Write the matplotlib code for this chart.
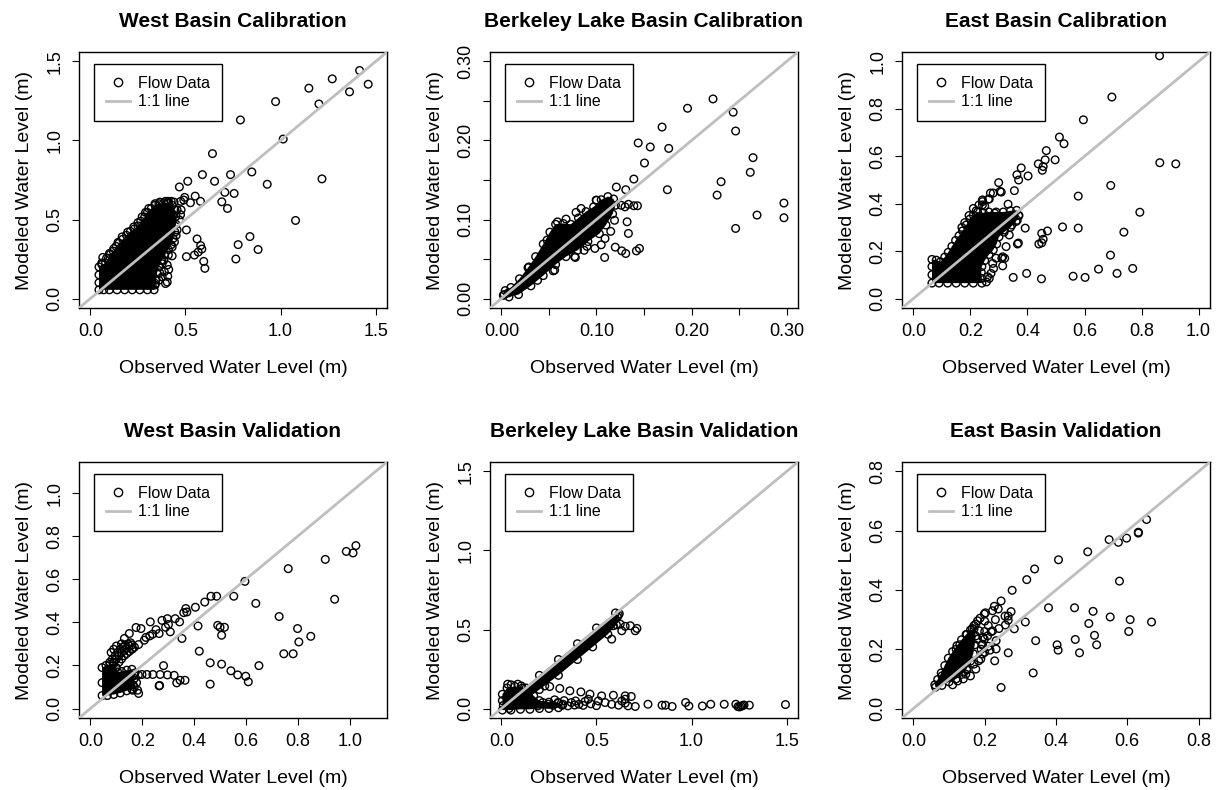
import numpy as np
import matplotlib.pyplot as plt
from matplotlib.lines import Line2D

plt.rcParams['font.family'] = ['Liberation Sans', 'DejaVu Sans']

# ---- West Basin Calibration ----
wc_obs = [1.416, 1.461, 1.272, 1.149, 1.363, 1.202, 0.974, 0.789, 1.014, 0.642, 0.589, 0.737, 0.849,
          0.653, 0.930, 1.218, 0.512, 0.468, 0.707, 0.756, 0.691, 0.721, 1.079, 0.505, 0.561, 0.839,
          0.777, 0.882, 0.765, 0.505, 0.547, 0.567, 0.580, 0.586, 0.596, 0.602, 0.551, 0.579, 0.526,
          0.496, 0.475, 0.065,
          0.370, 0.390, 0.410, 0.430, 0.430, 0.442, 0.451, 0.456, 0.468, 0.474, 0.477, 0.491, 0.456,
          0.438, 0.404, 0.412, 0.389, 0.407, 0.377, 0.365, 0.360, 0.342, 0.325, 0.404, 0.395, 0.386,
          0.377, 0.395, 0.410, 0.425, 0.440, 0.123, 0.167, 0.228, 0.272, 0.307, 0.196, 0.145, 0.250,
          0.340, 0.365, 0.290, 0.060, 0.085, 0.100]
wc_mod = [1.443, 1.356, 1.390, 1.331, 1.308, 1.231, 1.246, 1.130, 1.009, 0.917, 0.784, 0.784, 0.801,
          0.742, 0.723, 0.757, 0.742, 0.706, 0.672, 0.665, 0.612, 0.570, 0.494, 0.434, 0.377, 0.392,
          0.341, 0.310, 0.250, 0.265, 0.275, 0.294, 0.335, 0.313, 0.235, 0.191, 0.648, 0.615, 0.606,
          0.640, 0.615, 0.260,
          0.275, 0.275, 0.275, 0.270, 0.326, 0.358, 0.400, 0.434, 0.497, 0.530, 0.561, 0.623, 0.561,
          0.530, 0.212, 0.184, 0.169, 0.141, 0.137, 0.163, 0.116, 0.095, 0.085, 0.104, 0.095, 0.242,
          0.220, 0.615, 0.615, 0.615, 0.610, 0.316, 0.390, 0.453, 0.517, 0.570, 0.420, 0.355, 0.480,
          0.600, 0.610, 0.545, 0.225, 0.255, 0.285]
# outline of the saturated, fully overlapping part of the cloud (points along its rim)
wc_core_obs = [0.045, 0.045, 0.045, 0.045, 0.060, 0.080, 0.095, 0.105, 0.120, 0.135, 0.150, 0.170,
               0.190, 0.210, 0.230, 0.250, 0.265, 0.285, 0.300, 0.320, 0.340, 0.360, 0.385, 0.410,
               0.430, 0.445, 0.450, 0.450, 0.445, 0.435, 0.425, 0.410, 0.390, 0.375, 0.360, 0.350,
               0.345, 0.340, 0.335, 0.300, 0.260, 0.220, 0.180, 0.140, 0.100, 0.070]
wc_core_mod = [0.055, 0.100, 0.150, 0.200, 0.215, 0.225, 0.255, 0.280, 0.300, 0.330, 0.350, 0.375,
               0.400, 0.425, 0.440, 0.460, 0.490, 0.515, 0.545, 0.570, 0.590, 0.600, 0.605, 0.605,
               0.590, 0.560, 0.520, 0.470, 0.420, 0.380, 0.340, 0.310, 0.280, 0.240, 0.200, 0.160,
               0.120, 0.085, 0.055, 0.055, 0.055, 0.055, 0.055, 0.055, 0.055, 0.055]

# ---- Berkeley Lake Basin Calibration ----
bc_obs = [0.2226, 0.1958, 0.2438, 0.2464, 0.1690, 0.1439, 0.1566, 0.1760, 0.1505, 0.2647, 0.2618,
          0.2311, 0.2269, 0.1393, 0.1746, 0.1209, 0.1308, 0.2972, 0.2972, 0.2689, 0.2464, 0.1322,
          0.1336, 0.1198, 0.1266, 0.1308, 0.1420, 0.1452, 0.1086, 0.1336, 0.1393, 0.1431, 0.1000,
          0.0785, 0.0680, 0.0983, 0.0900, 0.0778, 0.0545,
          0.0997, 0.0838, 0.0590, 0.0480, 0.0290, 0.0770, 0.0870, 0.1050, 0.0560, 0.0380, 0.1090,
          0.1190, 0.1260, 0.1300, 0.1150, 0.0070, 0.0030]
bc_mod = [0.2526, 0.2408, 0.2358, 0.2120, 0.2170, 0.1969, 0.1918, 0.1900, 0.1715, 0.1783, 0.1597,
          0.1478, 0.1309, 0.1512, 0.1377, 0.1411, 0.1377, 0.1208, 0.1022, 0.1056, 0.0887, 0.0971,
          0.0824, 0.0650, 0.0603, 0.0570, 0.0603, 0.0634, 0.0520, 0.1192, 0.1174, 0.1174, 0.1242,
          0.1090, 0.1005, 0.0634, 0.0660, 0.0520, 0.0350,
          0.1246, 0.1140, 0.0970, 0.0740, 0.0400, 0.0530, 0.0610, 0.0680, 0.0360, 0.0230, 0.0760,
          0.0990, 0.1180, 0.1160, 0.0850, 0.0070, 0.0050]
bc_core_obs = [0.002, 0.004, 0.010, 0.019, 0.028, 0.036, 0.044, 0.051, 0.057, 0.065, 0.073, 0.081,
               0.089, 0.097, 0.105, 0.112, 0.118, 0.120, 0.117, 0.110, 0.103, 0.091, 0.080, 0.068,
               0.057, 0.044, 0.031, 0.018, 0.008]
bc_core_mod = [0.004, 0.010, 0.014, 0.025, 0.039, 0.053, 0.069, 0.084, 0.094, 0.095, 0.094, 0.102,
               0.110, 0.116, 0.125, 0.129, 0.126, 0.118, 0.107, 0.093, 0.082, 0.072, 0.061, 0.053,
               0.043, 0.029, 0.016, 0.005, 0.002]

# ---- East Basin Calibration ----
ec_obs = [0.863, 0.696, 0.596, 0.512, 0.528, 0.466, 0.497, 0.462, 0.438, 0.455, 0.452, 0.378, 0.363,
          0.369, 0.402, 0.299, 0.308, 0.280, 0.270, 0.354, 0.242, 0.266, 0.332, 0.864, 0.920, 0.692,
          0.578, 0.794, 0.738, 0.578, 0.523, 0.392, 0.450, 0.470, 0.455, 0.450, 0.440, 0.691, 0.769,
          0.649, 0.714, 0.602, 0.560, 0.449, 0.397, 0.350, 0.368, 0.365, 0.313, 0.310, 0.320, 0.290,
          0.364, 0.369,
          0.319, 0.336, 0.325, 0.313, 0.278, 0.281, 0.272, 0.260, 0.256, 0.266, 0.242, 0.263, 0.242,
          0.304, 0.210, 0.195, 0.180, 0.170, 0.230, 0.220, 0.250, 0.285, 0.345]
ec_mod = [1.024, 0.850, 0.754, 0.681, 0.653, 0.624, 0.585, 0.585, 0.568, 0.557, 0.541, 0.551, 0.522,
          0.500, 0.517, 0.489, 0.449, 0.445, 0.445, 0.455, 0.409, 0.420, 0.398, 0.573, 0.568, 0.477,
          0.432, 0.364, 0.280, 0.297, 0.302, 0.297, 0.275, 0.285, 0.250, 0.235, 0.230, 0.183, 0.127,
          0.124, 0.106, 0.089, 0.094, 0.083, 0.106, 0.089, 0.234, 0.230, 0.138, 0.170, 0.170, 0.170,
          0.330, 0.350,
          0.289, 0.268, 0.219, 0.176, 0.148, 0.127, 0.106, 0.092, 0.070, 0.085, 0.416, 0.419, 0.395,
          0.452, 0.380, 0.350, 0.320, 0.300, 0.395, 0.370, 0.390, 0.360, 0.310]
ec_core_obs = [0.065, 0.065, 0.065, 0.065, 0.080, 0.095, 0.110, 0.122, 0.135, 0.148, 0.160, 0.172,
               0.185, 0.198, 0.210, 0.225, 0.245, 0.265, 0.290, 0.315, 0.340, 0.362, 0.370, 0.360,
               0.340, 0.318, 0.300, 0.292, 0.280, 0.265, 0.250, 0.240, 0.238, 0.240, 0.240, 0.210,
               0.180, 0.150, 0.120, 0.090]
ec_core_mod = [0.065, 0.100, 0.135, 0.165, 0.162, 0.155, 0.175, 0.195, 0.220, 0.245, 0.265, 0.285,
               0.310, 0.335, 0.352, 0.365, 0.362, 0.365, 0.365, 0.365, 0.370, 0.372, 0.350, 0.325,
               0.300, 0.280, 0.260, 0.230, 0.205, 0.185, 0.160, 0.135, 0.110, 0.085, 0.065, 0.065,
               0.065, 0.065, 0.065, 0.065]

# ---- West Basin Validation ----
wv_obs = [1.024, 0.987, 1.013, 0.906, 0.942, 0.763, 0.596, 0.638, 0.553, 0.465, 0.487, 0.441, 0.405,
          0.368, 0.360, 0.344, 0.327, 0.297, 0.276, 0.290, 0.308, 0.231, 0.728, 0.799, 0.850, 0.804,
          0.746, 0.782, 0.650, 0.415, 0.491, 0.500, 0.517, 0.506, 0.353, 0.420, 0.462, 0.506, 0.542,
          0.568, 0.599, 0.609, 0.462, 0.282, 0.267, 0.333, 0.346, 0.365, 0.323, 0.297, 0.269, 0.241,
          0.218, 0.199,
          0.163, 0.186, 0.208, 0.229, 0.195, 0.176, 0.150, 0.131, 0.253, 0.265, 0.301, 0.372, 0.214,
          0.240,
          0.169, 0.185, 0.265, 0.156, 0.169, 0.182, 0.186, 0.163, 0.178,
          0.075, 0.085, 0.095, 0.105, 0.115, 0.125, 0.135, 0.145, 0.155, 0.090, 0.100, 0.110, 0.120,
          0.130, 0.140, 0.150, 0.160, 0.110, 0.120, 0.130, 0.140, 0.150, 0.160, 0.170, 0.080, 0.090,
          0.100, 0.120]
wv_mod = [0.756, 0.729, 0.722, 0.692, 0.507, 0.649, 0.590, 0.488, 0.521, 0.521, 0.521, 0.494, 0.470,
          0.464, 0.445, 0.402, 0.417, 0.417, 0.409, 0.377, 0.356, 0.402, 0.427, 0.371, 0.335, 0.309,
          0.254, 0.254, 0.199, 0.383, 0.386, 0.377, 0.377, 0.340, 0.325, 0.266, 0.212, 0.206, 0.175,
          0.156, 0.150, 0.124, 0.113, 0.199, 0.107, 0.119, 0.131, 0.131, 0.154, 0.156, 0.158, 0.158,
          0.158, 0.158,
          0.278, 0.297, 0.317, 0.337, 0.371, 0.376, 0.348, 0.325, 0.366, 0.348, 0.390, 0.448, 0.330,
          0.345,
          0.155, 0.155, 0.105, 0.111, 0.100, 0.085, 0.070, 0.085, 0.120,
          0.215, 0.230, 0.245, 0.260, 0.275, 0.285, 0.295, 0.300, 0.305, 0.215, 0.230, 0.245, 0.258,
          0.270, 0.280, 0.290, 0.295, 0.215, 0.230, 0.245, 0.255, 0.265, 0.275, 0.285, 0.260, 0.275,
          0.290, 0.300]
wv_core_obs = [0.045, 0.045, 0.045, 0.060, 0.075, 0.090, 0.100, 0.105, 0.120, 0.140, 0.160, 0.172,
               0.170, 0.165, 0.160, 0.140, 0.115, 0.090, 0.065]
wv_core_mod = [0.060, 0.120, 0.190, 0.200, 0.205, 0.210, 0.190, 0.170, 0.172, 0.178, 0.182, 0.165,
               0.140, 0.110, 0.090, 0.082, 0.072, 0.065, 0.060]

# ---- Berkeley Lake Basin Validation ----
bv_obs = [1.494, 1.304, 1.276, 1.268, 1.260, 1.252, 1.244, 1.233, 1.172, 1.101, 1.057, 0.986, 0.969,
          0.898, 0.863, 0.845, 0.771, 0.704,
          0.666, 0.651, 0.633, 0.651, 0.616, 0.580, 0.545, 0.510, 0.457, 0.408, 0.368,
          0.254, 0.307, 0.360, 0.418, 0.466, 0.527, 0.589, 0.651, 0.683,
          0.139, 0.165, 0.192, 0.218, 0.245, 0.271, 0.298, 0.324, 0.350, 0.385, 0.430, 0.470, 0.500,
          0.440, 0.390, 0.330, 0.280,
          0.589, 0.625, 0.651, 0.678, 0.713, 0.704, 0.633, 0.580, 0.598, 0.620, 0.610,
          0.033, 0.086, 0.104, 0.051, 0.130, 0.160, 0.228]
bv_mod = [0.025, 0.021, 0.022, 0.018, 0.014, 0.010, 0.012, 0.027, 0.027, 0.027, 0.016, 0.016, 0.038,
          0.013, 0.021, 0.021, 0.027, 0.013,
          0.017, 0.034, 0.048, 0.059, 0.021, 0.027, 0.038, 0.048, 0.059, 0.027, 0.038,
          0.139, 0.127, 0.112, 0.105, 0.091, 0.080, 0.084, 0.080, 0.076,
          0.038, 0.027, 0.017, 0.038, 0.027, 0.020, 0.038, 0.027, 0.017, 0.022, 0.020, 0.030, 0.018,
          0.045, 0.048, 0.050, 0.055,
          0.524, 0.534, 0.520, 0.524, 0.507, 0.492, 0.492, 0.439, 0.566, 0.600, 0.580,
          0.154, 0.154, 0.143, 0.150, 0.130, 0.120, 0.143]
bv_core_obs = [0.010, 0.100, 0.200, 0.300, 0.400, 0.500, 0.600, 0.615, 0.605, 0.560, 0.480, 0.400,
               0.300, 0.200, 0.120, 0.040]
bv_core_mod = [0.020, 0.110, 0.210, 0.310, 0.410, 0.510, 0.605, 0.590, 0.530, 0.470, 0.390, 0.310,
               0.210, 0.120, 0.050, 0.000]
bv_low_obs = [0.005, 0.005, 0.005, 0.030, 0.070, 0.110, 0.150, 0.170, 0.200, 0.250, 0.300, 0.320,
              0.300, 0.250, 0.200, 0.150, 0.100, 0.050]
bv_low_mod = [-0.010, 0.050, 0.090, 0.130, 0.140, 0.130, 0.110, 0.080, 0.050, 0.040, 0.035, 0.020,
              0.005, 0.000, 0.000, -0.005, -0.005, -0.010]

# ---- East Basin Validation ----
ev_obs = [0.654, 0.631, 0.631, 0.598, 0.575, 0.549, 0.489, 0.407, 0.340, 0.318, 0.277, 0.246, 0.227,
          0.238, 0.202, 0.222, 0.274, 0.257, 0.266, 0.187, 0.200, 0.175, 0.578, 0.379, 0.452, 0.504,
          0.552, 0.608, 0.668, 0.604, 0.492, 0.508, 0.514, 0.454, 0.403, 0.406, 0.466, 0.343, 0.336,
          0.246, 0.266, 0.228, 0.183, 0.232, 0.215, 0.314, 0.283, 0.266, 0.258, 0.218, 0.240, 0.195,
          0.192,
          0.124, 0.147, 0.175, 0.189, 0.194, 0.180, 0.185, 0.180, 0.199, 0.194, 0.199, 0.208, 0.222,
          0.232, 0.160, 0.110, 0.140,
          0.120, 0.130, 0.150, 0.165, 0.170, 0.190, 0.200, 0.210, 0.150, 0.170, 0.100, 0.090, 0.080,
          0.110, 0.200, 0.210, 0.230]
ev_mod = [0.638, 0.595, 0.592, 0.575, 0.561, 0.570, 0.529, 0.502, 0.471, 0.435, 0.399, 0.363, 0.345,
          0.336, 0.323, 0.330, 0.327, 0.312, 0.312, 0.305, 0.295, 0.285, 0.430, 0.340, 0.340, 0.328,
          0.309, 0.300, 0.292, 0.260, 0.287, 0.247, 0.215, 0.233, 0.215, 0.197, 0.188, 0.229, 0.120,
          0.071, 0.188, 0.161, 0.161, 0.201, 0.197, 0.292, 0.269, 0.298, 0.282, 0.259, 0.270, 0.240,
          0.215,
          0.093, 0.116, 0.133, 0.167, 0.184, 0.234, 0.262, 0.296, 0.319, 0.217, 0.234, 0.245, 0.262,
          0.229, 0.110, 0.080, 0.100,
          0.200, 0.215, 0.250, 0.270, 0.280, 0.200, 0.190, 0.210, 0.130, 0.150, 0.140, 0.120, 0.110,
          0.160, 0.260, 0.280, 0.300]
ev_core_obs = [0.060, 0.068, 0.078, 0.088, 0.098, 0.110, 0.122, 0.135, 0.148, 0.160, 0.170, 0.175,
               0.172, 0.168, 0.160, 0.150, 0.135, 0.120, 0.100, 0.080, 0.062]
ev_core_mod = [0.080, 0.098, 0.120, 0.145, 0.170, 0.192, 0.212, 0.232, 0.250, 0.265, 0.268, 0.245,
               0.215, 0.185, 0.160, 0.135, 0.115, 0.100, 0.090, 0.078, 0.072]

panels = [
    ("West Basin Calibration", wc_obs, wc_mod, [(wc_core_obs, wc_core_mod)], 1.5,
     [0, 0.5, 1.0, 1.5], ["0.0", "0.5", "1.0", "1.5"]),
    ("Berkeley Lake Basin Calibration", bc_obs, bc_mod, [(bc_core_obs, bc_core_mod)], 0.3,
     [0, 0.05, 0.10, 0.15, 0.20, 0.25, 0.30], ["0.00", "", "0.10", "", "0.20", "", "0.30"]),
    ("East Basin Calibration", ec_obs, ec_mod, [(ec_core_obs, ec_core_mod)], 1.0,
     [0, 0.2, 0.4, 0.6, 0.8, 1.0], ["0.0", "0.2", "0.4", "0.6", "0.8", "1.0"]),
    ("West Basin Validation", wv_obs, wv_mod, [(wv_core_obs, wv_core_mod)], 1.1,
     [0, 0.2, 0.4, 0.6, 0.8, 1.0], ["0.0", "0.2", "0.4", "0.6", "0.8", "1.0"]),
    ("Berkeley Lake Basin Validation", bv_obs, bv_mod,
     [(bv_core_obs, bv_core_mod), (bv_low_obs, bv_low_mod)], 1.5,
     [0, 0.5, 1.0, 1.5], ["0.0", "0.5", "1.0", "1.5"]),
    ("East Basin Validation", ev_obs, ev_mod, [(ev_core_obs, ev_core_mod)], 0.8,
     [0, 0.2, 0.4, 0.6, 0.8], ["0.0", "0.2", "0.4", "0.6", "0.8"]),
]

fig = plt.figure(figsize=(12.16, 7.90), dpi=100)
lefts = [79, 490, 902]
tops = [52, 462]
W, H = 308, 256
line_grey = '#BEBEBE'
pt_style = dict(s=30, facecolors='none', edgecolors='black', linewidths=1.0)

for i, (title, obs, mod, cores, hi, ticks, labels) in enumerate(panels):
    r, c = divmod(i, 3)
    ax = fig.add_axes([lefts[c] / 1216, 1 - (tops[r] + H) / 790, W / 1216, H / 790])
    # solid interior where the points pile up, with the rim points drawn on top
    for cx, cy in cores:
        ax.fill(cx, cy, color='black', lw=0, zorder=2)
        ax.scatter(cx, cy, zorder=3, **pt_style)
    ax.scatter(obs, mod, zorder=3, **pt_style)
    ax.axline((0, 0), slope=1, color=line_grey, lw=2, zorder=4)
    pad = 0.04 * hi
    ax.set_xlim(-pad, hi + pad)
    ax.set_ylim(-pad, hi + pad)
    ax.set_xticks(ticks)
    ax.set_xticklabels(labels)
    ax.set_yticks(ticks)
    ax.set_yticklabels(labels, rotation=90, va='center')
    ax.tick_params(direction='out', length=5, width=0.8, labelsize=13, pad=6)
    for sp in ax.spines.values():
        sp.set_linewidth(1.0)
    ax.set_title(title, fontsize=15, fontweight='bold', pad=18)
    ax.set_xlabel("Observed Water Level (m)", fontsize=14, labelpad=14)
    ax.set_ylabel("Modeled Water Level (m)", fontsize=14, labelpad=10)
    handles = [Line2D([], [], marker='o', ls='none', mfc='none', mec='black', ms=6, mew=1.0),
               Line2D([], [], color=line_grey, lw=2)]
    leg = ax.legend(handles, ["Flow Data", "1:1 line"], loc='upper left',
                    bbox_to_anchor=(0.049, 0.952), borderaxespad=0, fontsize=11.5,
                    fancybox=False, framealpha=1, edgecolor='black', handlelength=1.5,
                    handletextpad=0.55, borderpad=0.72, labelspacing=0.22)
    leg.get_frame().set_linewidth(1.0)
    leg.set_zorder(5)

fig.savefig("out.png", dpi=100)
